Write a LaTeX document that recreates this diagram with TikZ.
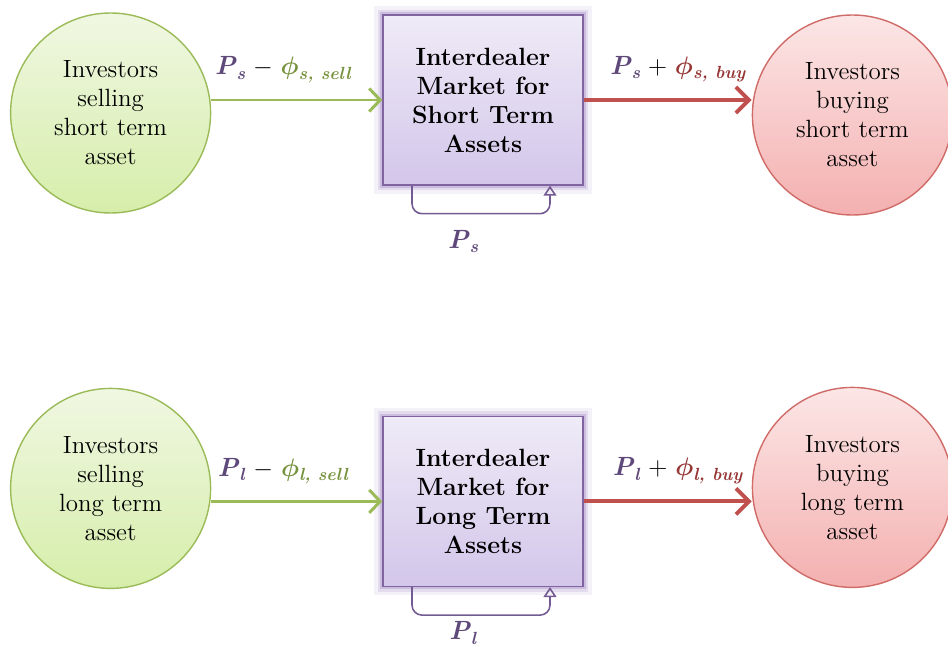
\documentclass[tikz,border=0pt]{standalone}
\usepackage{fontspec}
\usepackage{bm}
\usepackage{xcolor}
\usetikzlibrary{arrows.meta,positioning,calc}

\definecolor{selledge}{RGB}{155,187,89}
\definecolor{selltop}{RGB}{240,247,226}
\definecolor{sellbot}{RGB}{214,238,170}
\definecolor{buyedge}{RGB}{208,108,104}
\definecolor{buytop}{RGB}{252,230,230}
\definecolor{buybot}{RGB}{244,176,176}
\definecolor{mktedge}{RGB}{128,100,162}
\definecolor{mkttop}{RGB}{239,235,247}
\definecolor{mktbot}{RGB}{211,198,234}
\definecolor{mktglow}{RGB}{150,120,190}
\definecolor{sellline}{RGB}{155,187,89}
\definecolor{buyline}{RGB}{192,80,77}
\definecolor{pricecol}{RGB}{95,73,122}
\definecolor{sellfee}{RGB}{118,146,60}
\definecolor{buyfee}{RGB}{150,55,53}

\newcommand{\subsz}{\fontsize{10}{10}\selectfont}
\newcommand{\priceP}[1]{\textcolor{pricecol}{\textbf{\textit{P}}\raisebox{-0.4ex}{\subsz\textbf{\textit{#1}}}}}
\newcommand{\feephi}[2]{\textcolor{#1}{$\bm{\phi}$\raisebox{-0.4ex}{\subsz\textbf{\textit{#2}}}}}

\begin{document}
\begin{tikzpicture}[
    node distance=0.3cm,
    investor/.style={circle, draw=#1edge, line width=0.8pt, minimum size=4cm, inner sep=0pt, align=center,
        top color=#1top, bottom color=#1bot, font=\fontsize{14.2}{16.5}\selectfont},
    market/.style={draw=mktedge, line width=0.8pt, minimum width=4cm, minimum height=3.4cm, align=center,
        top color=mkttop, bottom color=mktbot, font=\fontsize{14.2}{16.5}\selectfont\bfseries,
        preaction={draw=mktglow, line width=10pt, opacity=0.1},
        preaction={draw=mktglow, line width=6pt, opacity=0.18},
        preaction={draw=mktglow, line width=3pt, opacity=0.3}},
    sellarrow/.style={-{Straight Barb[length=2.2mm, width=4.6mm]}, draw=sellline, line width=1.7pt},
    buyarrow/.style={-{Straight Barb[length=2.6mm, width=5.2mm]}, draw=buyline, line width=2.2pt},
    relay/.style={-{Triangle[open, length=2mm, width=2.6mm]}, draw=mktedge!90!black, line width=0.9pt, rounded corners=0.2cm},
    price/.style={font=\fontsize{15}{17}\selectfont},
]
\useasboundingbox (0,0) rectangle (18.96,12.98);

% short term market
\node[market] (mktS) at (9.66,10.98) {Interdealer\\Market for\\Short Term\\Assets};
\node[investor=sell, left=3.42cm of mktS, yshift=-0.26cm] (sellS) {Investors\\selling\\short term\\asset};
\node[investor=buy, right=3.36cm of mktS, yshift=-0.3cm] (buyS) {Investors\\buying\\short term\\asset};

% long term market
\node[market, below=4.6cm of mktS] (mktL) {Interdealer\\Market for\\Long Term\\Assets};
\node[investor=sell, left=3.42cm of mktL, yshift=0.26cm] (sellL) {Investors\\selling\\long term\\asset};
\node[investor=buy, right=3.36cm of mktL, yshift=0.28cm] (buyL) {Investors\\buying\\long term\\asset};

\draw[sellarrow] (sellS.east |- mktS.west) -- node[price, above=0.2cm, pos=0.42] (sellSlbl) {\priceP{s} $-$ \feephi{sellfee}{s, sell}} (mktS.west);
\draw[buyarrow] (mktS.east) -- node[price, above=0.2cm, pos=0.56] (buySlbl) {\priceP{s} + \feephi{buyfee}{s, buy}} (buyS.west |- mktS.east);
\draw[sellarrow] (sellL.east |- mktL.west) -- node[price, above=0.2cm, pos=0.42] (sellLlbl) {\priceP{l} $-$ \feephi{sellfee}{l, sell}} (mktL.west);
\draw[buyarrow] (mktL.east) -- node[price, above=0.2cm, pos=0.56] (buyLlbl) {\priceP{l} + \feephi{buyfee}{l, buy}} (buyL.west |- mktL.east);

% interdealer trading loops
\draw[relay] ([xshift=-1.42cm]mktS.south) -- ++(0,-0.56) coordinate (turnS) -| ([xshift=1.34cm]mktS.south);
\node[price] (pS) at ($(turnS)+(1.02,-0.56)$) {\priceP{s}};
\draw[relay] ([xshift=-1.42cm]mktL.south) -- ++(0,-0.56) coordinate (turnL) -| ([xshift=1.34cm]mktL.south);
\node[price] (pL) at ($(turnL)+(1.02,-0.36)$) {\priceP{l}};
\end{tikzpicture}
\end{document}
